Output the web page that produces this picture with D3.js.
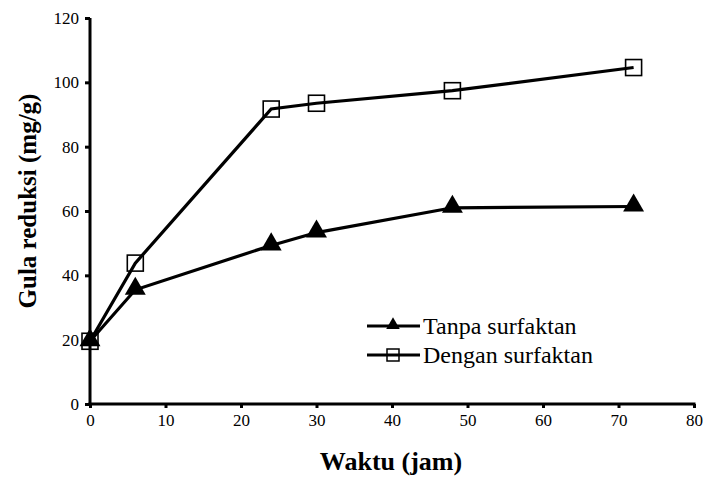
<!DOCTYPE html>
<html>
<head>
<meta charset="utf-8">
<script src="https://cdn.jsdelivr.net/npm/d3@7"></script>
<style>
  body { margin: 0; background: #fff; }
  svg text { font-family: "Liberation Serif", "Times New Roman", Tinos, serif !important; }
</style>
</head>
<body>
<svg id="chart" width="708" height="482"></svg>
<script>
// data
const hours = [0, 6, 24, 30, 48, 72];
const tanpa = [19.5, 35.5, 49.3, 53.3, 61.0, 61.4];
const dengan = [19.5, 43.8, 91.7, 93.5, 97.4, 104.6];
const xTicks = [0, 10, 20, 30, 40, 50, 60, 70, 80];
const yTicks = [0, 20, 40, 60, 80, 100, 120];
const seriesNames = ["Tanpa surfaktan", "Dengan surfaktan"];

const svg = d3.select("#chart");

// scales
const x = d3.scaleLinear().domain([0, 80]).range([90, 694]);
const y = d3.scaleLinear().domain([0, 120]).range([404, 18]);

// axes
const xAxis = svg.append("g")
    .attr("transform", "translate(0," + y(0) + ")")
    .call(d3.axisBottom(x).tickValues(xTicks).tickSize(4).tickPadding(6).tickSizeOuter(0));
const yAxis = svg.append("g")
    .attr("transform", "translate(" + x(0) + ",0)")
    .call(d3.axisLeft(y).tickValues(yTicks).tickSize(5).tickPadding(6).tickSizeOuter(0));

[xAxis, yAxis].forEach(a => {
    a.attr("font-family", null).attr("font-size", 17);
    a.select(".domain").attr("stroke", "#000").attr("stroke-width", 3);
    a.selectAll(".tick line").attr("stroke", "#000").attr("stroke-width", 3);
    a.selectAll(".tick text").attr("fill", "#000");
});
// the domain line should reach past the corner a little
xAxis.select(".domain").attr("d", "M" + (x(0) - 1.5) + ",0H" + (x(80) + 1.5));
yAxis.select(".domain").attr("d", "M0," + (y(0) + 1.5) + "V" + y(120));

// axis titles
svg.append("text")
    .attr("x", 391).attr("y", 470)
    .attr("text-anchor", "middle")
    .attr("font-size", 26).attr("font-weight", "bold")
    .text("Waktu (jam)");

svg.append("text")
    .attr("transform", "translate(36,201) rotate(-90)")
    .attr("text-anchor", "middle")
    .attr("font-size", 25).attr("font-weight", "bold")
    .text("Gula reduksi (mg/g)");

// lines
const line = d3.line().x(d => x(d[0])).y(d => y(d[1]));
const tanpaPts = hours.map((h, i) => [h, tanpa[i]]);
const denganPts = hours.map((h, i) => [h, dengan[i]]);

svg.append("path").datum(denganPts)
    .attr("d", line).attr("fill", "none").attr("stroke", "#000").attr("stroke-width", 3.2);
svg.append("path").datum(tanpaPts)
    .attr("d", line).attr("fill", "none").attr("stroke", "#000").attr("stroke-width", 3.2);

// markers
const tri = d3.symbol().type(d3.symbolTriangle).size(190);
svg.selectAll(".tri").data(tanpaPts).enter()
    .append("path")
    .attr("class", "tri")
    .attr("d", tri)
    .attr("transform", d => "translate(" + x(d[0]) + "," + (y(d[1]) - 1) + ")")
    .attr("fill", "#000");

const sq = 16;
svg.selectAll(".sq").data(denganPts).enter()
    .append("rect")
    .attr("class", "sq")
    .attr("x", d => x(d[0]) - sq / 2)
    .attr("y", d => y(d[1]) - sq / 2)
    .attr("width", sq).attr("height", sq)
    .attr("fill", "none").attr("stroke", "#000").attr("stroke-width", 1.6);

// legend
const legend = svg.append("g").attr("transform", "translate(367,326)");
seriesNames.forEach((name, i) => {
    const row = legend.append("g").attr("transform", "translate(0," + i * 29 + ")");
    row.append("line").attr("x1", 0).attr("x2", 53).attr("y1", 0).attr("y2", 0)
        .attr("stroke", "#000").attr("stroke-width", 3);
    if (i === 0) {
        row.append("path").attr("d", d3.symbol().type(d3.symbolTriangle).size(80))
            .attr("transform", "translate(26,-1)").attr("fill", "#000");
    } else {
        row.append("rect").attr("x", 20).attr("y", -6).attr("width", 12).attr("height", 12)
            .attr("fill", "none").attr("stroke", "#000").attr("stroke-width", 1.5);
    }
    row.append("text").attr("x", 56).attr("y", 8)
        .attr("font-size", 24)
        .text(name);
});
</script>
</body>
</html>
